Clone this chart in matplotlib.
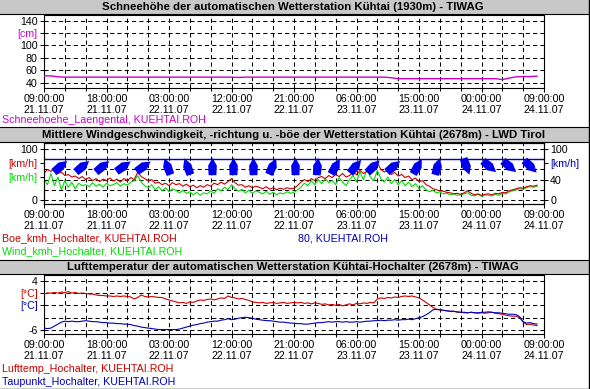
import numpy as np
import pandas as pd
import matplotlib
matplotlib.use('Agg')
import matplotlib.pyplot as plt
import matplotlib.dates as mdates
from matplotlib.markers import MarkerStyle
from matplotlib.path import Path
from matplotlib.transforms import Affine2D
from matplotlib.patches import Rectangle
from matplotlib.lines import Line2D
from matplotlib.ticker import FixedLocator

plt.rcParams['font.family'] = ['Liberation Sans', 'DejaVu Sans']
plt.rcParams['font.size'] = 7.5


###### Data
start = pd.Timestamp('2007-11-21 09:00')
end = pd.Timestamp('2007-11-24 09:00')

# snow depth, hourly [cm]
snow_cm = [51, 51, 49.5, 49, 49, 49, 49, 49, 49, 49,
           49, 49, 49, 49, 49, 49, 49, 49, 49, 49,
           49, 49, 49, 49, 49, 49, 49, 49, 48.5, 49,
           49, 49, 49, 49, 49, 49, 49, 49, 49, 49,
           49, 49, 49, 49, 49, 49, 49, 49, 49, 49,
           48, 46.5, 46.5, 46.5, 46.5, 46.5, 46.5, 46.5, 46.5, 46.5,
           46.5, 46.5, 46.5, 46.5, 46.5, 46.5, 45, 47.5, 49.5, 50,
           50, 50.5]

# half-hourly wind values [km/h]
gust_kmh = [52, 60, 56, 62, 52, 55, 48, 50, 45, 47,
            42, 46, 40, 44, 38, 42, 36, 41, 38, 43,
            37, 41, 35, 42, 38, 44, 40, 55, 46, 42,
            38, 40, 33, 35, 30, 33, 28, 34, 30, 32,
            27, 31, 26, 29, 24, 28, 25, 30, 27, 33,
            30, 35, 31, 36, 42, 34, 29, 30, 25, 28,
            24, 27, 25, 22, 26, 21, 24, 20, 23, 21,
            24, 22, 23, 28, 35, 40, 36, 42, 38, 44,
            46, 42, 48, 44, 50, 46, 52, 45, 48, 54,
            50, 58, 52, 56, 62, 58, 74, 60, 55, 58,
            50, 54, 47, 50, 44, 47, 40, 43, 36, 38,
            30, 27, 22, 20, 18, 17, 15, 14, 12, 13,
            11, 14, 18, 13, 10, 12, 9, 11, 12, 10,
            13, 12, 15, 14, 18, 20, 22, 24, 23, 26,
            28, 27, 29]
wind_kmh = [40, 30, 52, 28, 45, 20, 38, 25, 35, 22,
            33, 28, 30, 26, 34, 27, 31, 25, 33, 28,
            30, 34, 27, 32, 29, 35, 38, 48, 35, 28,
            24, 30, 20, 26, 18, 24, 16, 22, 19, 14,
            19, 13, 16, 10, 15, 9, 14, 12, 18, 13,
            22, 18, 25, 20, 30, 22, 17, 21, 14, 19,
            13, 18, 15, 12, 17, 11, 15, 10, 14, 12,
            16, 13, 15, 20, 25, 33, 28, 38, 30, 40,
            32, 42, 34, 38, 30, 44, 35, 28, 40, 48,
            36, 55, 40, 60, 45, 38, 58, 42, 35, 45,
            32, 40, 30, 38, 28, 35, 26, 32, 22, 28,
            20, 16, 19, 14, 16, 12, 13, 10, 12, 9,
            10, 12, 14, 9, 8, 11, 7, 10, 9, 8,
            11, 9, 13, 12, 16, 18, 20, 22, 21, 24,
            26, 25, 27]
wind_ref = 80

# wind direction arrows: hour after start, direction of arrow (deg, clockwise from up)
arrow_hours = [2.3, 5.5, 8.4, 11.4, 14.3, 17.7, 20.6, 24.2, 27.2, 30.1, 32.8, 36.1,
               39.3, 41.9, 44.8, 47.4, 50.3, 53.7, 56.6, 60.8, 64.1, 67.0, 70.0]
arrow_dir = [50, 50, 50, 55, 55, -20, -20, 0, 0, 0, 25, 0,
             5, 30, 40, 45, 50, 30, 15, 160, 130, 130, 135]

# half-hourly temperatures [deg C]
air_temp = [1.3, 1.5, 1.5, 1.6, 1.5, 1.7, 1.6, 1.8, 1.5, 1.6,
            1.4, 1.5, 1.4, 1.3, 1.3, 1.1, 1.0, 1.0, 0.9, 0.9,
            0.8, 0.9, 0.8, 0.9, 0.8, 0.7, 0.3, 0.6, 1.1, 0.8,
            0.7, 0.8, 0.7, 0.6, 0.6, 0.3, 0.1, -0.1, -0.3, -0.5,
            -0.4, -0.6, -0.3, -0.4, -0.1, 0.1, 0.0, 0.2, 0.3, 0.1,
            0.3, 0.5, 0.4, 0.9, 0.6, 0.5, 0.3, 0.4, 0.2, 0.0,
            -0.3, -0.4, -0.5, -0.4, -0.6, -0.5, -0.4, -0.6, -0.5, -0.4,
            -0.6, -0.5, -0.4, -0.5, -0.4, -0.6, -0.5, -0.7, -0.5, -0.6,
            -0.8, -0.7, -0.9, -0.8, -1.0, -0.8, -1.1, -0.9, -0.7, -0.9,
            -0.6, -0.7, -0.5, -0.6, -0.4, -0.5, 0.3, 0.5, 0.4, 0.6,
            0.5, 0.7, 0.6, 0.8, 0.9, 0.8, 0.9, 0.7, 0.5, 0.1,
            -0.4, -0.9, -1.4, -1.8, -1.9, -2.0, -2.1, -2.2, -2.2, -2.4,
            -2.4, -2.5, -2.5, -2.4, -2.5, -2.6, -2.5, -2.6, -2.5, -2.4,
            -2.6, -2.7, -2.8, -3.0, -3.1, -3.2, -3.2, -3.5, -4.4, -4.9,
            -4.8, -5.0, -5.1]
dew_point = [-5.6, -5.7, -5.6, -5.2, -4.8, -4.4, -4.2, -4.3, -4.2, -4.3,
             -4.3, -4.2, -4.1, -4.2, -4.3, -4.3, -4.4, -4.5, -4.5, -4.6,
             -4.6, -4.7, -4.7, -4.8, -4.8, -4.9, -5.1, -5.2, -5.4, -5.5,
             -5.6, -5.7, -5.8, -5.9, -5.9, -5.9, -5.9, -5.9, -5.9, -5.8,
             -5.6, -5.4, -5.2, -5.0, -4.9, -4.7, -4.6, -4.4, -4.3, -4.2,
             -4.2, -4.0, -3.9, -3.7, -3.9, -3.8, -3.6, -3.5, -3.4, -3.5,
             -3.6, -3.8, -3.9, -4.0, -4.1, -4.1, -4.2, -4.3, -4.4, -4.4,
             -4.5, -4.6, -4.6, -4.7, -4.7, -4.8, -4.8, -4.7, -4.6, -4.5,
             -4.5, -4.4, -4.3, -4.4, -4.3, -4.3, -4.4, -4.3, -4.4, -4.4,
             -4.3, -4.4, -4.3, -4.2, -4.2, -4.1, -4.1, -4.0, -4.1, -4.0,
             -4.0, -3.9, -4.0, -3.9, -3.9, -3.8, -3.9, -3.7, -3.5, -3.3,
             -2.9, -2.5, -1.9, -1.8, -1.9, -2.0, -2.1, -2.2, -2.2, -2.3,
             -2.4, -2.4, -2.5, -2.4, -2.5, -2.5, -2.4, -2.4, -2.3, -2.4,
             -2.5, -2.5, -2.6, -2.7, -2.8, -2.8, -2.9, -3.3, -4.3, -4.6,
             -4.5, -4.7, -4.8]

titles = ['Schneehöhe der automatischen Wetterstation Kühtai (1930m) - TIWAG',
          'Mittlere Windgeschwindigkeit, -richtung u. -böe der Wetterstation Kühtai (2678m) - LWD Tirol',
          'Lufttemperatur der automatischen Wetterstation Kühtai-Hochalter (2678m) - TIWAG']

t_hourly = pd.date_range(start, periods=len(snow_cm), freq='1h')
t_half = pd.date_range(start, periods=len(gust_kmh), freq='30min')

MAGENTA = '#cc00cc'
RED = '#cc0000'
GREEN = '#00dd00'
BLUE = '#0000bb'
ARROW = '#0000f0'

W, H = 590, 389


def fx(px):
    return px / W


def fy(px):
    return 1 - px / H


def style_axis(ax, ylim, ygrid):
    ax.set_xlim(start, end)
    ax.set_ylim(*ylim)
    for t in pd.date_range(start, end, freq='3h'):
        ax.axvline(t, color='black', lw=0.75, ls=(0, (4, 3)), zorder=1)
    for v in ygrid:
        ax.axhline(v, color='black', lw=0.75, ls=(0, (4, 3)), zorder=1)
    ax.xaxis.set_major_locator(FixedLocator(mdates.date2num(pd.date_range(start, end, freq='9h'))))
    ax.xaxis.set_minor_locator(FixedLocator(mdates.date2num(pd.date_range(start, end, freq='3h'))))
    ax.xaxis.set_major_formatter(mdates.DateFormatter('%H:%M:%S\n%d.%m.%y'))
    ax.tick_params(axis='both', which='both', direction='out', length=3, width=0.75,
                   pad=1.5, labelsize=7.7)
    ax.tick_params(axis='x', which='minor', length=2)
    for lab in ax.get_xticklabels():
        lab.set_linespacing(1.1)
    for s in ax.spines.values():
        s.set_linewidth(0.8)


def set_ylabels(ax, ticks, labels, colors):
    ax.set_yticks(ticks)
    ax.set_yticklabels(labels)
    for lab, c in zip(ax.get_yticklabels(), colors):
        lab.set_color(c)


fig = plt.figure(figsize=(W / 100, H / 100), dpi=100)

# title bars
for (y0, y1), title in zip([(0, 14), (127, 142), (260, 274)], titles):
    fig.patches.append(Rectangle((0, fy(y1)), fx(589), (y1 - y0) / H, transform=fig.transFigure,
                                 facecolor='#c8c8c8', edgecolor='none', zorder=0))
    for yy in (y0, y1):
        if yy > 0:
            fig.add_artist(Line2D([0, fx(589)], [fy(yy), fy(yy)], color='black', lw=0.8))
    fig.text(0.497, fy((y0 + y1) / 2 + 0.5), title, ha='center', va='center',
             fontweight='bold', fontsize=8.2)

fig.add_artist(Line2D([fx(589), fx(589)], [0, 1], color='black', lw=1))
fig.add_artist(Line2D([0, 1], [fy(388.5), fy(388.5)], color='black', lw=1))

###### Panel 1: snow depth
ax1 = fig.add_axes([fx(44), fy(88), fx(500), 73 / H])
style_axis(ax1, (31.5, 149), [140, 120, 100, 80, 60, 40])
ax1.plot(t_hourly, snow_cm, color=MAGENTA, lw=1, zorder=3)
set_ylabels(ax1, [140, 120, 100, 80, 60, 40], ['140', '[cm]', '100', '80', '60', '40'],
            ['black', MAGENTA, 'black', 'black', 'black', 'black'])
fig.text(fx(2), fy(120), 'Schneehoehe_Laengental, KUEHTAI.ROH', color=MAGENTA, va='center',
         fontsize=7.7)

###### Panel 2: wind
ax2 = fig.add_axes([fx(44), fy(204), fx(500), 61 / H])
style_axis(ax2, (-8, 112), [100, 80, 60, 40, 20, 0])
ax2.axhline(wind_ref, color=BLUE, lw=1, zorder=2)
ax2.plot(t_half, wind_kmh, color=GREEN, lw=0.8, zorder=3)
ax2.plot(t_half, gust_kmh, color=RED, lw=0.8, zorder=4)
arrow_path = Path([(0, 1), (0.5, 0.1), (0.45, -1), (-0.45, -1), (-0.5, 0.1), (0, 1)],
                  [Path.MOVETO, Path.LINETO, Path.LINETO, Path.LINETO, Path.LINETO, Path.CLOSEPOLY])
for h, d in zip(arrow_hours, arrow_dir):
    ms = MarkerStyle(arrow_path, transform=Affine2D().rotate_deg(-d))
    ax2.plot([start + pd.Timedelta(hours=h)], [66], marker=ms, ms=12.5, color=ARROW,
             ls='none', mew=0, zorder=5)
set_ylabels(ax2, [100, 73, 46, 0], ['100', '[km/h]', '[km/h]', '0'],
            ['black', RED, GREEN, 'black'])
ax2r = ax2.twinx()
ax2r.set_ylim(-8, 112)
ax2r.tick_params(direction='out', length=3, width=0.75, pad=1.5, labelsize=7.7)
set_ylabels(ax2r, [100, 73, 40, 0], ['100', '[km/h]', '40', '0'],
            ['black', BLUE, 'black', 'black'])
fig.text(fx(2), fy(238), 'Boe_kmh_Hochalter, KUEHTAI.ROH', color=RED, va='center', fontsize=7.7)
fig.text(fx(2), fy(251), 'Wind_kmh_Hochalter, KUEHTAI.ROH', color=GREEN, va='center', fontsize=7.7)
fig.text(fx(298), fy(238), '80, KUEHTAI.ROH', color=BLUE, va='center', fontsize=7.7)

###### Panel 3: temperature
ax3 = fig.add_axes([fx(44), fy(334), fx(500), 59 / H])
style_axis(ax3, (-6.8, 5.15), [4, 1.5, -1, -3.5, -6])
ax3.plot(t_half, air_temp, color=RED, lw=0.8, zorder=3)
ax3.plot(t_half, dew_point, color=BLUE, lw=0.8, zorder=4)
set_ylabels(ax3, [4, 1.5, -1, -6], ['4', '[°C]', '[°C]', '-6'],
            ['black', RED, BLUE, 'black'])
fig.text(fx(2), fy(369), 'Lufttemp_Hochalter, KUEHTAI.ROH', color=RED, va='center', fontsize=7.7)
fig.text(fx(2), fy(382), 'Taupunkt_Hochalter, KUEHTAI.ROH', color=BLUE, va='center', fontsize=7.7)

fig.savefig('out.png', dpi=100, facecolor='white')
